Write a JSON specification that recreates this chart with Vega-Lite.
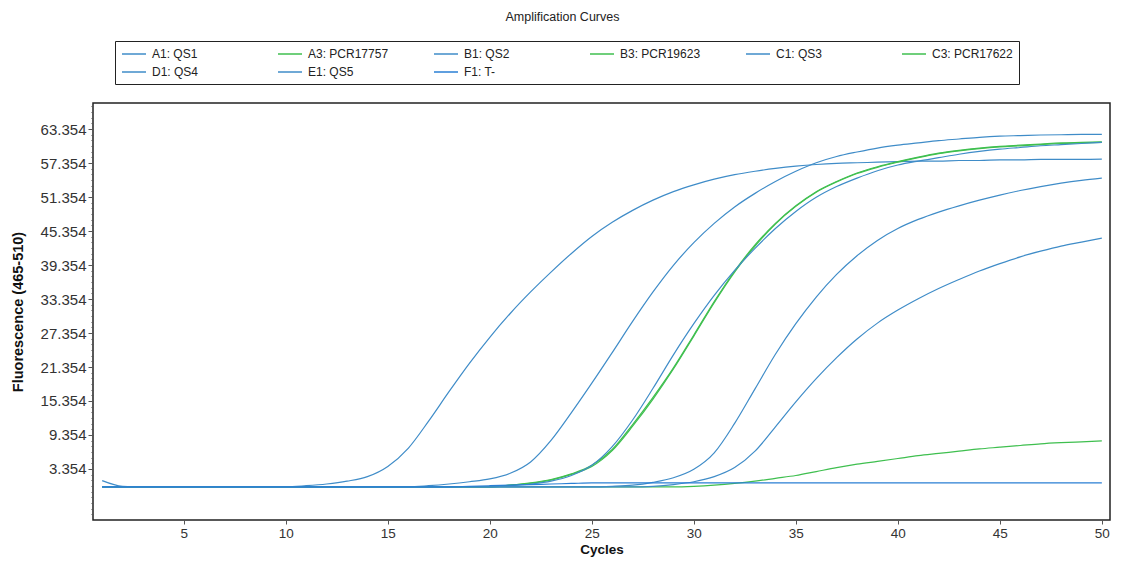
{
  "$schema": "https://vega.github.io/schema/vega-lite/v6.json",
  "width": 1017,
  "height": 417,
  "autosize": {"type": "none"},
  "padding": {"left": 93, "top": 103, "right": 20, "bottom": 43},
  "background": "white",
  "title": {"text": "Amplification Curves", "frame": "group", "offset": 17, "dx": -39, "fontSize": 12.5, "font": "Liberation Sans", "fontWeight": "normal", "color": "#222"},
  "config": {"view": {"stroke": "#222", "strokeWidth": 1.5}},
  "data": {"values": [
{"s":"A1: QS1","c":1,"v":1.3},{"s":"A1: QS1","c":2,"v":0.3},{"s":"A1: QS1","c":3,"v":0.2},{"s":"A1: QS1","c":4,"v":0.2},{"s":"A1: QS1","c":5,"v":0.2},{"s":"A1: QS1","c":6,"v":0.2},{"s":"A1: QS1","c":7,"v":0.2},{"s":"A1: QS1","c":8,"v":0.2},{"s":"A1: QS1","c":9,"v":0.2},{"s":"A1: QS1","c":10,"v":0.2},
{"s":"A1: QS1","c":11,"v":0.4},{"s":"A1: QS1","c":12,"v":0.7},{"s":"A1: QS1","c":13,"v":1.2},{"s":"A1: QS1","c":14,"v":2.0},{"s":"A1: QS1","c":15,"v":3.8},{"s":"A1: QS1","c":16,"v":7.0},{"s":"A1: QS1","c":17,"v":11.8},{"s":"A1: QS1","c":18,"v":17.0},{"s":"A1: QS1","c":19,"v":22.0},{"s":"A1: QS1","c":20,"v":26.6},
{"s":"A1: QS1","c":21,"v":30.8},{"s":"A1: QS1","c":22,"v":34.6},{"s":"A1: QS1","c":23,"v":38.1},{"s":"A1: QS1","c":24,"v":41.4},{"s":"A1: QS1","c":25,"v":44.4},{"s":"A1: QS1","c":26,"v":46.9},{"s":"A1: QS1","c":27,"v":49.0},{"s":"A1: QS1","c":28,"v":50.8},{"s":"A1: QS1","c":29,"v":52.3},{"s":"A1: QS1","c":30,"v":53.5},
{"s":"A1: QS1","c":31,"v":54.5},{"s":"A1: QS1","c":32,"v":55.3},{"s":"A1: QS1","c":33,"v":55.9},{"s":"A1: QS1","c":34,"v":56.4},{"s":"A1: QS1","c":35,"v":56.8},{"s":"A1: QS1","c":36,"v":57.1},{"s":"A1: QS1","c":37,"v":57.3},{"s":"A1: QS1","c":38,"v":57.4},{"s":"A1: QS1","c":39,"v":57.5},{"s":"A1: QS1","c":40,"v":57.6},
{"s":"A1: QS1","c":41,"v":57.7},{"s":"A1: QS1","c":42,"v":57.7},{"s":"A1: QS1","c":43,"v":57.8},{"s":"A1: QS1","c":44,"v":57.8},{"s":"A1: QS1","c":45,"v":57.9},{"s":"A1: QS1","c":46,"v":57.9},{"s":"A1: QS1","c":47,"v":58.0},{"s":"A1: QS1","c":48,"v":58.0},{"s":"A1: QS1","c":49,"v":58.0},{"s":"A1: QS1","c":50,"v":58.05},

{"s":"A3: PCR17757","c":1,"v":0.2},{"s":"A3: PCR17757","c":2,"v":0.2},{"s":"A3: PCR17757","c":3,"v":0.2},{"s":"A3: PCR17757","c":4,"v":0.2},{"s":"A3: PCR17757","c":5,"v":0.2},{"s":"A3: PCR17757","c":6,"v":0.2},{"s":"A3: PCR17757","c":7,"v":0.2},{"s":"A3: PCR17757","c":8,"v":0.2},{"s":"A3: PCR17757","c":9,"v":0.2},{"s":"A3: PCR17757","c":10,"v":0.2},
{"s":"A3: PCR17757","c":11,"v":0.2},{"s":"A3: PCR17757","c":12,"v":0.2},{"s":"A3: PCR17757","c":13,"v":0.2},{"s":"A3: PCR17757","c":14,"v":0.2},{"s":"A3: PCR17757","c":15,"v":0.2},{"s":"A3: PCR17757","c":16,"v":0.2},{"s":"A3: PCR17757","c":17,"v":0.2},{"s":"A3: PCR17757","c":18,"v":0.2},{"s":"A3: PCR17757","c":19,"v":0.2},{"s":"A3: PCR17757","c":20,"v":0.2},
{"s":"A3: PCR17757","c":21,"v":0.5},{"s":"A3: PCR17757","c":22,"v":0.9},{"s":"A3: PCR17757","c":23,"v":1.5},{"s":"A3: PCR17757","c":24,"v":2.5},{"s":"A3: PCR17757","c":25,"v":4.0},{"s":"A3: PCR17757","c":26,"v":6.8},{"s":"A3: PCR17757","c":27,"v":11.2},{"s":"A3: PCR17757","c":28,"v":16.0},{"s":"A3: PCR17757","c":29,"v":21.2},{"s":"A3: PCR17757","c":30,"v":27.0},
{"s":"A3: PCR17757","c":31,"v":32.9},{"s":"A3: PCR17757","c":32,"v":38.3},{"s":"A3: PCR17757","c":33,"v":42.9},{"s":"A3: PCR17757","c":34,"v":46.7},{"s":"A3: PCR17757","c":35,"v":49.8},{"s":"A3: PCR17757","c":36,"v":52.3},{"s":"A3: PCR17757","c":37,"v":54.1},{"s":"A3: PCR17757","c":38,"v":55.6},{"s":"A3: PCR17757","c":39,"v":56.7},{"s":"A3: PCR17757","c":40,"v":57.6},
{"s":"A3: PCR17757","c":41,"v":58.4},{"s":"A3: PCR17757","c":42,"v":59.1},{"s":"A3: PCR17757","c":43,"v":59.6},{"s":"A3: PCR17757","c":44,"v":60.0},{"s":"A3: PCR17757","c":45,"v":60.3},{"s":"A3: PCR17757","c":46,"v":60.5},{"s":"A3: PCR17757","c":47,"v":60.7},{"s":"A3: PCR17757","c":48,"v":60.9},{"s":"A3: PCR17757","c":49,"v":61.0},{"s":"A3: PCR17757","c":50,"v":61.1},

{"s":"B1: QS2","c":1,"v":0.2},{"s":"B1: QS2","c":2,"v":0.2},{"s":"B1: QS2","c":3,"v":0.2},{"s":"B1: QS2","c":4,"v":0.2},{"s":"B1: QS2","c":5,"v":0.2},{"s":"B1: QS2","c":6,"v":0.2},{"s":"B1: QS2","c":7,"v":0.2},{"s":"B1: QS2","c":8,"v":0.2},{"s":"B1: QS2","c":9,"v":0.2},{"s":"B1: QS2","c":10,"v":0.2},
{"s":"B1: QS2","c":11,"v":0.2},{"s":"B1: QS2","c":12,"v":0.2},{"s":"B1: QS2","c":13,"v":0.2},{"s":"B1: QS2","c":14,"v":0.2},{"s":"B1: QS2","c":15,"v":0.2},{"s":"B1: QS2","c":16,"v":0.2},{"s":"B1: QS2","c":17,"v":0.4},{"s":"B1: QS2","c":18,"v":0.7},{"s":"B1: QS2","c":19,"v":1.1},{"s":"B1: QS2","c":20,"v":1.6},
{"s":"B1: QS2","c":21,"v":2.6},{"s":"B1: QS2","c":22,"v":4.6},{"s":"B1: QS2","c":23,"v":8.4},{"s":"B1: QS2","c":24,"v":13.3},{"s":"B1: QS2","c":25,"v":18.5},{"s":"B1: QS2","c":26,"v":23.9},{"s":"B1: QS2","c":27,"v":29.4},{"s":"B1: QS2","c":28,"v":34.6},{"s":"B1: QS2","c":29,"v":39.3},{"s":"B1: QS2","c":30,"v":43.3},
{"s":"B1: QS2","c":31,"v":46.7},{"s":"B1: QS2","c":32,"v":49.6},{"s":"B1: QS2","c":33,"v":52.0},{"s":"B1: QS2","c":34,"v":54.1},{"s":"B1: QS2","c":35,"v":55.9},{"s":"B1: QS2","c":36,"v":57.4},{"s":"B1: QS2","c":37,"v":58.5},{"s":"B1: QS2","c":38,"v":59.3},{"s":"B1: QS2","c":39,"v":60.0},{"s":"B1: QS2","c":40,"v":60.5},
{"s":"B1: QS2","c":41,"v":60.9},{"s":"B1: QS2","c":42,"v":61.3},{"s":"B1: QS2","c":43,"v":61.6},{"s":"B1: QS2","c":44,"v":61.9},{"s":"B1: QS2","c":45,"v":62.1},{"s":"B1: QS2","c":46,"v":62.2},{"s":"B1: QS2","c":47,"v":62.3},{"s":"B1: QS2","c":48,"v":62.35},{"s":"B1: QS2","c":49,"v":62.4},{"s":"B1: QS2","c":50,"v":62.4},

{"s":"B3: PCR19623","c":1,"v":0.2},{"s":"B3: PCR19623","c":2,"v":0.2},{"s":"B3: PCR19623","c":3,"v":0.2},{"s":"B3: PCR19623","c":4,"v":0.2},{"s":"B3: PCR19623","c":5,"v":0.2},{"s":"B3: PCR19623","c":6,"v":0.2},{"s":"B3: PCR19623","c":7,"v":0.2},{"s":"B3: PCR19623","c":8,"v":0.2},{"s":"B3: PCR19623","c":9,"v":0.2},{"s":"B3: PCR19623","c":10,"v":0.2},
{"s":"B3: PCR19623","c":11,"v":0.2},{"s":"B3: PCR19623","c":12,"v":0.2},{"s":"B3: PCR19623","c":13,"v":0.2},{"s":"B3: PCR19623","c":14,"v":0.2},{"s":"B3: PCR19623","c":15,"v":0.2},{"s":"B3: PCR19623","c":16,"v":0.2},{"s":"B3: PCR19623","c":17,"v":0.2},{"s":"B3: PCR19623","c":18,"v":0.2},{"s":"B3: PCR19623","c":19,"v":0.2},{"s":"B3: PCR19623","c":20,"v":0.2},
{"s":"B3: PCR19623","c":21,"v":0.5},{"s":"B3: PCR19623","c":22,"v":0.8},{"s":"B3: PCR19623","c":23,"v":1.4},{"s":"B3: PCR19623","c":24,"v":2.4},{"s":"B3: PCR19623","c":25,"v":3.8},{"s":"B3: PCR19623","c":26,"v":6.6},{"s":"B3: PCR19623","c":27,"v":10.9},{"s":"B3: PCR19623","c":28,"v":15.7},{"s":"B3: PCR19623","c":29,"v":21.0},{"s":"B3: PCR19623","c":30,"v":26.8},
{"s":"B3: PCR19623","c":31,"v":32.7},{"s":"B3: PCR19623","c":32,"v":38.1},{"s":"B3: PCR19623","c":33,"v":42.7},{"s":"B3: PCR19623","c":34,"v":46.6},{"s":"B3: PCR19623","c":35,"v":49.7},{"s":"B3: PCR19623","c":36,"v":52.2},{"s":"B3: PCR19623","c":37,"v":54.0},{"s":"B3: PCR19623","c":38,"v":55.5},{"s":"B3: PCR19623","c":39,"v":56.6},{"s":"B3: PCR19623","c":40,"v":57.5},
{"s":"B3: PCR19623","c":41,"v":58.3},{"s":"B3: PCR19623","c":42,"v":59.0},{"s":"B3: PCR19623","c":43,"v":59.5},{"s":"B3: PCR19623","c":44,"v":59.9},{"s":"B3: PCR19623","c":45,"v":60.2},{"s":"B3: PCR19623","c":46,"v":60.4},{"s":"B3: PCR19623","c":47,"v":60.6},{"s":"B3: PCR19623","c":48,"v":60.8},{"s":"B3: PCR19623","c":49,"v":60.9},{"s":"B3: PCR19623","c":50,"v":61.0},

{"s":"C1: QS3","c":1,"v":0.2},{"s":"C1: QS3","c":2,"v":0.2},{"s":"C1: QS3","c":3,"v":0.2},{"s":"C1: QS3","c":4,"v":0.2},{"s":"C1: QS3","c":5,"v":0.2},{"s":"C1: QS3","c":6,"v":0.2},{"s":"C1: QS3","c":7,"v":0.2},{"s":"C1: QS3","c":8,"v":0.2},{"s":"C1: QS3","c":9,"v":0.2},{"s":"C1: QS3","c":10,"v":0.2},
{"s":"C1: QS3","c":11,"v":0.2},{"s":"C1: QS3","c":12,"v":0.2},{"s":"C1: QS3","c":13,"v":0.2},{"s":"C1: QS3","c":14,"v":0.2},{"s":"C1: QS3","c":15,"v":0.2},{"s":"C1: QS3","c":16,"v":0.2},{"s":"C1: QS3","c":17,"v":0.2},{"s":"C1: QS3","c":18,"v":0.2},{"s":"C1: QS3","c":19,"v":0.2},{"s":"C1: QS3","c":20,"v":0.2},
{"s":"C1: QS3","c":21,"v":0.4},{"s":"C1: QS3","c":22,"v":0.7},{"s":"C1: QS3","c":23,"v":1.2},{"s":"C1: QS3","c":24,"v":2.2},{"s":"C1: QS3","c":25,"v":4.0},{"s":"C1: QS3","c":26,"v":7.3},{"s":"C1: QS3","c":27,"v":12.0},{"s":"C1: QS3","c":28,"v":17.6},{"s":"C1: QS3","c":29,"v":23.5},{"s":"C1: QS3","c":30,"v":29.0},
{"s":"C1: QS3","c":31,"v":34.0},{"s":"C1: QS3","c":32,"v":38.4},{"s":"C1: QS3","c":33,"v":42.3},{"s":"C1: QS3","c":34,"v":45.8},{"s":"C1: QS3","c":35,"v":48.8},{"s":"C1: QS3","c":36,"v":51.3},{"s":"C1: QS3","c":37,"v":53.2},{"s":"C1: QS3","c":38,"v":54.7},{"s":"C1: QS3","c":39,"v":56.0},{"s":"C1: QS3","c":40,"v":57.0},
{"s":"C1: QS3","c":41,"v":57.7},{"s":"C1: QS3","c":42,"v":58.3},{"s":"C1: QS3","c":43,"v":58.9},{"s":"C1: QS3","c":44,"v":59.4},{"s":"C1: QS3","c":45,"v":59.8},{"s":"C1: QS3","c":46,"v":60.1},{"s":"C1: QS3","c":47,"v":60.4},{"s":"C1: QS3","c":48,"v":60.6},{"s":"C1: QS3","c":49,"v":60.8},{"s":"C1: QS3","c":50,"v":61.0},

{"s":"C3: PCR17622","c":1,"v":0.2},{"s":"C3: PCR17622","c":2,"v":0.2},{"s":"C3: PCR17622","c":3,"v":0.2},{"s":"C3: PCR17622","c":4,"v":0.2},{"s":"C3: PCR17622","c":5,"v":0.2},{"s":"C3: PCR17622","c":6,"v":0.2},{"s":"C3: PCR17622","c":7,"v":0.2},{"s":"C3: PCR17622","c":8,"v":0.2},{"s":"C3: PCR17622","c":9,"v":0.2},{"s":"C3: PCR17622","c":10,"v":0.2},
{"s":"C3: PCR17622","c":11,"v":0.2},{"s":"C3: PCR17622","c":12,"v":0.2},{"s":"C3: PCR17622","c":13,"v":0.2},{"s":"C3: PCR17622","c":14,"v":0.2},{"s":"C3: PCR17622","c":15,"v":0.2},{"s":"C3: PCR17622","c":16,"v":0.2},{"s":"C3: PCR17622","c":17,"v":0.2},{"s":"C3: PCR17622","c":18,"v":0.2},{"s":"C3: PCR17622","c":19,"v":0.2},{"s":"C3: PCR17622","c":20,"v":0.2},
{"s":"C3: PCR17622","c":21,"v":0.2},{"s":"C3: PCR17622","c":22,"v":0.2},{"s":"C3: PCR17622","c":23,"v":0.2},{"s":"C3: PCR17622","c":24,"v":0.2},{"s":"C3: PCR17622","c":25,"v":0.2},{"s":"C3: PCR17622","c":26,"v":0.2},{"s":"C3: PCR17622","c":27,"v":0.2},{"s":"C3: PCR17622","c":28,"v":0.2},{"s":"C3: PCR17622","c":29,"v":0.2},{"s":"C3: PCR17622","c":30,"v":0.3},
{"s":"C3: PCR17622","c":31,"v":0.5},{"s":"C3: PCR17622","c":32,"v":0.8},{"s":"C3: PCR17622","c":33,"v":1.2},{"s":"C3: PCR17622","c":34,"v":1.7},{"s":"C3: PCR17622","c":35,"v":2.2},{"s":"C3: PCR17622","c":36,"v":2.9},{"s":"C3: PCR17622","c":37,"v":3.6},{"s":"C3: PCR17622","c":38,"v":4.2},{"s":"C3: PCR17622","c":39,"v":4.7},{"s":"C3: PCR17622","c":40,"v":5.2},
{"s":"C3: PCR17622","c":41,"v":5.7},{"s":"C3: PCR17622","c":42,"v":6.1},{"s":"C3: PCR17622","c":43,"v":6.5},{"s":"C3: PCR17622","c":44,"v":6.9},{"s":"C3: PCR17622","c":45,"v":7.2},{"s":"C3: PCR17622","c":46,"v":7.5},{"s":"C3: PCR17622","c":47,"v":7.8},{"s":"C3: PCR17622","c":48,"v":8.0},{"s":"C3: PCR17622","c":49,"v":8.15},{"s":"C3: PCR17622","c":50,"v":8.3},

{"s":"D1: QS4","c":1,"v":0.2},{"s":"D1: QS4","c":2,"v":0.2},{"s":"D1: QS4","c":3,"v":0.2},{"s":"D1: QS4","c":4,"v":0.2},{"s":"D1: QS4","c":5,"v":0.2},{"s":"D1: QS4","c":6,"v":0.2},{"s":"D1: QS4","c":7,"v":0.2},{"s":"D1: QS4","c":8,"v":0.2},{"s":"D1: QS4","c":9,"v":0.2},{"s":"D1: QS4","c":10,"v":0.2},
{"s":"D1: QS4","c":11,"v":0.2},{"s":"D1: QS4","c":12,"v":0.2},{"s":"D1: QS4","c":13,"v":0.2},{"s":"D1: QS4","c":14,"v":0.2},{"s":"D1: QS4","c":15,"v":0.2},{"s":"D1: QS4","c":16,"v":0.2},{"s":"D1: QS4","c":17,"v":0.2},{"s":"D1: QS4","c":18,"v":0.2},{"s":"D1: QS4","c":19,"v":0.2},{"s":"D1: QS4","c":20,"v":0.2},
{"s":"D1: QS4","c":21,"v":0.2},{"s":"D1: QS4","c":22,"v":0.2},{"s":"D1: QS4","c":23,"v":0.2},{"s":"D1: QS4","c":24,"v":0.2},{"s":"D1: QS4","c":25,"v":0.2},{"s":"D1: QS4","c":26,"v":0.3},{"s":"D1: QS4","c":27,"v":0.5},{"s":"D1: QS4","c":28,"v":1.0},{"s":"D1: QS4","c":29,"v":1.8},{"s":"D1: QS4","c":30,"v":3.3},
{"s":"D1: QS4","c":31,"v":6.2},{"s":"D1: QS4","c":32,"v":11.4},{"s":"D1: QS4","c":33,"v":17.5},{"s":"D1: QS4","c":34,"v":23.6},{"s":"D1: QS4","c":35,"v":29.0},{"s":"D1: QS4","c":36,"v":33.7},{"s":"D1: QS4","c":37,"v":37.7},{"s":"D1: QS4","c":38,"v":41.0},{"s":"D1: QS4","c":39,"v":43.7},{"s":"D1: QS4","c":40,"v":45.8},
{"s":"D1: QS4","c":41,"v":47.4},{"s":"D1: QS4","c":42,"v":48.7},{"s":"D1: QS4","c":43,"v":49.8},{"s":"D1: QS4","c":44,"v":50.8},{"s":"D1: QS4","c":45,"v":51.7},{"s":"D1: QS4","c":46,"v":52.5},{"s":"D1: QS4","c":47,"v":53.2},{"s":"D1: QS4","c":48,"v":53.8},{"s":"D1: QS4","c":49,"v":54.3},{"s":"D1: QS4","c":50,"v":54.7},

{"s":"E1: QS5","c":1,"v":0.2},{"s":"E1: QS5","c":2,"v":0.2},{"s":"E1: QS5","c":3,"v":0.2},{"s":"E1: QS5","c":4,"v":0.2},{"s":"E1: QS5","c":5,"v":0.2},{"s":"E1: QS5","c":6,"v":0.2},{"s":"E1: QS5","c":7,"v":0.2},{"s":"E1: QS5","c":8,"v":0.2},{"s":"E1: QS5","c":9,"v":0.2},{"s":"E1: QS5","c":10,"v":0.2},
{"s":"E1: QS5","c":11,"v":0.2},{"s":"E1: QS5","c":12,"v":0.2},{"s":"E1: QS5","c":13,"v":0.2},{"s":"E1: QS5","c":14,"v":0.2},{"s":"E1: QS5","c":15,"v":0.2},{"s":"E1: QS5","c":16,"v":0.2},{"s":"E1: QS5","c":17,"v":0.2},{"s":"E1: QS5","c":18,"v":0.2},{"s":"E1: QS5","c":19,"v":0.2},{"s":"E1: QS5","c":20,"v":0.2},
{"s":"E1: QS5","c":21,"v":0.2},{"s":"E1: QS5","c":22,"v":0.2},{"s":"E1: QS5","c":23,"v":0.2},{"s":"E1: QS5","c":24,"v":0.2},{"s":"E1: QS5","c":25,"v":0.2},{"s":"E1: QS5","c":26,"v":0.2},{"s":"E1: QS5","c":27,"v":0.2},{"s":"E1: QS5","c":28,"v":0.3},{"s":"E1: QS5","c":29,"v":0.6},{"s":"E1: QS5","c":30,"v":1.1},
{"s":"E1: QS5","c":31,"v":2.0},{"s":"E1: QS5","c":32,"v":3.6},{"s":"E1: QS5","c":33,"v":6.5},{"s":"E1: QS5","c":34,"v":10.8},{"s":"E1: QS5","c":35,"v":15.2},{"s":"E1: QS5","c":36,"v":19.3},{"s":"E1: QS5","c":37,"v":23.0},{"s":"E1: QS5","c":38,"v":26.3},{"s":"E1: QS5","c":39,"v":29.1},{"s":"E1: QS5","c":40,"v":31.4},
{"s":"E1: QS5","c":41,"v":33.4},{"s":"E1: QS5","c":42,"v":35.2},{"s":"E1: QS5","c":43,"v":36.8},{"s":"E1: QS5","c":44,"v":38.3},{"s":"E1: QS5","c":45,"v":39.6},{"s":"E1: QS5","c":46,"v":40.8},{"s":"E1: QS5","c":47,"v":41.8},{"s":"E1: QS5","c":48,"v":42.7},{"s":"E1: QS5","c":49,"v":43.4},{"s":"E1: QS5","c":50,"v":44.1},

{"s":"F1: T-","c":1,"v":0.2},{"s":"F1: T-","c":2,"v":0.2},{"s":"F1: T-","c":3,"v":0.2},{"s":"F1: T-","c":4,"v":0.2},{"s":"F1: T-","c":5,"v":0.2},{"s":"F1: T-","c":6,"v":0.2},{"s":"F1: T-","c":7,"v":0.2},{"s":"F1: T-","c":8,"v":0.2},{"s":"F1: T-","c":9,"v":0.2},{"s":"F1: T-","c":10,"v":0.2},
{"s":"F1: T-","c":11,"v":0.2},{"s":"F1: T-","c":12,"v":0.2},{"s":"F1: T-","c":13,"v":0.2},{"s":"F1: T-","c":14,"v":0.2},{"s":"F1: T-","c":15,"v":0.2},{"s":"F1: T-","c":16,"v":0.2},{"s":"F1: T-","c":17,"v":0.2},{"s":"F1: T-","c":18,"v":0.2},{"s":"F1: T-","c":19,"v":0.3},{"s":"F1: T-","c":20,"v":0.4},
{"s":"F1: T-","c":21,"v":0.5},{"s":"F1: T-","c":22,"v":0.6},{"s":"F1: T-","c":23,"v":0.7},{"s":"F1: T-","c":24,"v":0.8},{"s":"F1: T-","c":25,"v":0.9},{"s":"F1: T-","c":26,"v":0.9},{"s":"F1: T-","c":27,"v":0.9},{"s":"F1: T-","c":28,"v":0.9},{"s":"F1: T-","c":29,"v":0.9},{"s":"F1: T-","c":30,"v":0.9},
{"s":"F1: T-","c":31,"v":0.9},{"s":"F1: T-","c":32,"v":0.9},{"s":"F1: T-","c":33,"v":0.9},{"s":"F1: T-","c":34,"v":0.9},{"s":"F1: T-","c":35,"v":0.9},{"s":"F1: T-","c":36,"v":0.9},{"s":"F1: T-","c":37,"v":0.9},{"s":"F1: T-","c":38,"v":0.9},{"s":"F1: T-","c":39,"v":0.9},{"s":"F1: T-","c":40,"v":0.9},
{"s":"F1: T-","c":41,"v":0.9},{"s":"F1: T-","c":42,"v":0.9},{"s":"F1: T-","c":43,"v":0.9},{"s":"F1: T-","c":44,"v":0.9},{"s":"F1: T-","c":45,"v":0.9},{"s":"F1: T-","c":46,"v":0.9},{"s":"F1: T-","c":47,"v":0.9},{"s":"F1: T-","c":48,"v":0.9},{"s":"F1: T-","c":49,"v":0.9},{"s":"F1: T-","c":50,"v":0.9}
  ]},
  "mark": {"type": "line", "strokeWidth": 1.2, "interpolate": "monotone"},
  "encoding": {
    "x": {"field": "c", "type": "quantitative",
      "scale": {"domain": [0.55, 50.4], "nice": false, "zero": false},
      "axis": {"values": [5,10,15,20,25,30,35,40,45,50], "title": "Cycles", "titleFont": "Liberation Sans", "titleFontWeight": "bold", "titleFontSize": 13.5, "titleColor": "#111", "titlePadding": 3, "labelFont": "Liberation Sans", "labelFontSize": 13.5, "labelColor": "#333", "tickColor": "#555", "tickSize": 4, "domain": false, "grid": false, "labelPadding": 2}},
    "y": {"field": "v", "type": "quantitative",
      "scale": {"domain": [-5.65, 67.95], "nice": false, "zero": false},
      "axis": {"values": [-4.646,-3.646,-2.646,-1.646,-0.646,0.354,1.354,2.354,3.354,4.354,5.354,6.354,7.354,8.354,9.354,10.354,11.354,12.354,13.354,14.354,15.354,16.354,17.354,18.354,19.354,20.354,21.354,22.354,23.354,24.354,25.354,26.354,27.354,28.354,29.354,30.354,31.354,32.354,33.354,34.354,35.354,36.354,37.354,38.354,39.354,40.354,41.354,42.354,43.354,44.354,45.354,46.354,47.354,48.354,49.354,50.354,51.354,52.354,53.354,54.354,55.354,56.354,57.354,58.354,59.354,60.354,61.354,62.354,63.354,64.354,65.354,66.354,67.354],
        "labelExpr": "datum.value > 3 && abs((datum.value - 3.354) / 6 - round((datum.value - 3.354) / 6)) < 0.01 ? format(datum.value, '.3f') : ''",
        "tickSize": {"condition": {"test": "datum.value > 3 && abs((datum.value - 3.354) / 6 - round((datum.value - 3.354) / 6)) < 0.01", "value": 5}, "value": 2},
        "title": "Fluorescence (465-510)", "titleFont": "Liberation Sans", "titleFontWeight": "bold", "titleFontSize": 14.5, "titleColor": "#111", "titlePadding": 15,
        "labelFont": "Liberation Sans", "labelFontSize": 15, "labelColor": "#333", "tickColor": "#555", "domain": false, "grid": false, "labelPadding": 2, "labelOverlap": false}},
    "color": {"field": "s", "type": "nominal",
      "scale": {"domain": ["A1: QS1","A3: PCR17757","B1: QS2","B3: PCR19623","C1: QS3","C3: PCR17622","D1: QS4","E1: QS5","F1: T-"],
                "range": ["#3f8cc8","#3fbf4f","#3f8cc8","#3fbf4f","#3f8cc8","#3fbf4f","#3f8cc8","#3f8cc8","#2a7fd4"]},
      "legend": {"orient": "none", "direction": "horizontal", "legendX": 22, "legendY": -62, "columns": 6, "title": null, "symbolType": "M-1,0H3", "symbolSize": 144, "symbolStrokeWidth": 1.5, "labelFont": "Liberation Sans", "labelFontSize": 12, "labelColor": "#222", "labelOffset": 17, "columnPadding": 42, "rowPadding": 5, "padding": 6, "strokeColor": "#222", "gridAlign": "all", "labelLimit": 0}}
  }
}
